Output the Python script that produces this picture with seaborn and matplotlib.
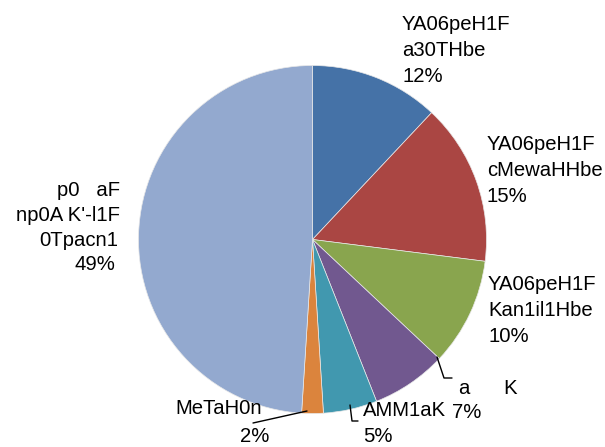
import matplotlib
matplotlib.use("Agg")
import matplotlib.pyplot as plt
import seaborn as sns

# ---- data ----
categories = ["YA06peH1F\na30THbe", "YA06peH1F\ncMewaHHbe", "YA06peH1F\nKan1il1Hbe",
              "a      K", "AMM1aK", "MeTaH0n", "p0   aF\nnp0A K'-l1F\n0Tpacn1"]
values = [12, 15, 10, 7, 5, 2, 49]
colors = ["#4572A7", "#AA4643", "#89A54E", "#71588F", "#4198AF", "#DB843D", "#93A9CF"]

sns.set_style("white")
plt.rcParams["font.family"] = ["Liberation Sans", "DejaVu Sans"]

W, H = 605, 447
fig = plt.figure(figsize=(6.05, 4.47), dpi=100)
ax = fig.add_axes([0, 0, 1, 1])

def Y(y):
    return H - y

cx, cy, r = 312.5, 239.5, 174
ax.pie(values, colors=sns.color_palette(colors), startangle=90, counterclock=False,
       center=(cx, Y(cy)), radius=r, wedgeprops=dict(linewidth=0.5, edgecolor="#e8e8e8"),
       frame=True)
ax.set_xlim(0, W)
ax.set_ylim(0, H)
ax.set_aspect("equal")
ax.axis("off")

fs = 14.6
# label layout: (first line y center, line spacing, list of line x, ha)
layout = [
    (24, 26, [402], "left"),
    (144, 26, [487], "left"),
    (284, 26, [488], "left"),
    (389, 24, [459, 452], "left"),
    (410, 26, [363], "left"),
    (408, 28, [262, 269], "right"),
    (191, 24.5, [120, 120, 118, 115], "right"),
]
for cat, val, (y0, ls, xs, ha) in zip(categories, values, layout):
    lines = cat.split("\n") + [f"{val}%"]
    for i, line in enumerate(lines):
        x = xs[i] if i < len(xs) else xs[-1]
        ax.text(x, Y(y0 + i * ls), line, fontsize=fs, ha=ha, va="center", color="#000000")

# leader lines
ax.plot([437, 444, 452], [Y(357), Y(378), Y(378)], color="black", lw=1)
ax.plot([350, 352, 358], [Y(405), Y(421), Y(421)], color="black", lw=1)
ax.plot([307, 253], [Y(411), Y(423)], color="black", lw=1)

fig.savefig("out.png", dpi=100)
